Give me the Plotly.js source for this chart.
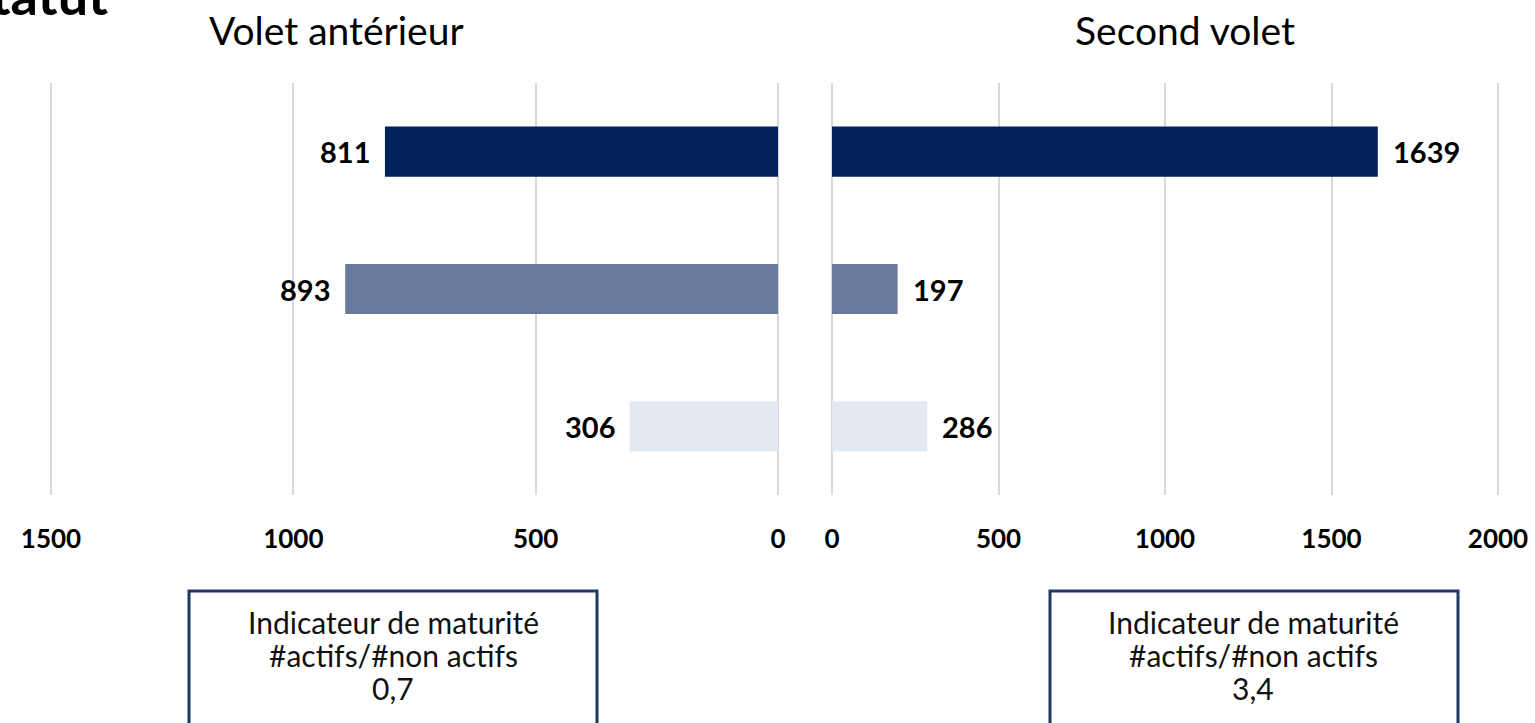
<!DOCTYPE html>
<html>
<head>
<meta charset="utf-8">
<script src="https://cdn.plot.ly/plotly-3.0.1.min.js"></script>
<style>html,body{margin:0;padding:0;background:#fff;}#chart{width:1535px;height:723px;}</style>
</head>
<body>
<div id="chart"></div>
<script>
// ---- data ----
const categories = ["Actifs", "Non actifs (A)", "Non actifs (B)"];
const voletAnterieur = [811, 893, 306];
const secondVolet = [1639, 197, 286];
const barColors = ["#03215B", "#687A9D", "#E4E8F1"];
const leftTicks = [1500, 1000, 500, 0];
const rightTicks = [0, 500, 1000, 1500, 2000];
const panelTitles = ["Volet antérieur", "Second volet"];
const maturite = ["0,7", "3,4"];
const boxLines = ["Indicateur de maturité", "#actifs/#non actifs"];

const W = 1535, H = 723;
const px = v => v / W;
const py = v => 1 - v / H;
const FONT = "Lato, 'Liberation Sans', sans-serif";

const traces = [
  {type: "bar", orientation: "h", y: categories, x: voletAnterieur,
   marker: {color: barColors}, xaxis: "x", yaxis: "y", hoverinfo: "x"},
  {type: "bar", orientation: "h", y: categories, x: secondVolet,
   marker: {color: barColors}, xaxis: "x2", yaxis: "y2", hoverinfo: "x"}
];

const annotations = [];
categories.forEach((c, i) => {
  annotations.push({x: voletAnterieur[i], y: c, xref: "x", yref: "y",
    text: "<b>" + voletAnterieur[i] + "</b>", showarrow: false,
    xanchor: "right", xshift: -13, font: {family: FONT, size: 29, color: "#000"}});
  annotations.push({x: secondVolet[i], y: c, xref: "x2", yref: "y2",
    text: "<b>" + secondVolet[i] + "</b>", showarrow: false,
    xanchor: "left", xshift: 13, font: {family: FONT, size: 29, color: "#000"}});
});
// panel titles
annotations.push({x: px(336), y: py(30), xref: "paper", yref: "paper", text: panelTitles[0],
  showarrow: false, xanchor: "center", yanchor: "middle", font: {family: FONT, size: 39, color: "#000"}});
annotations.push({x: px(1185), y: py(30), xref: "paper", yref: "paper", text: panelTitles[1],
  showarrow: false, xanchor: "center", yanchor: "middle", font: {family: FONT, size: 39, color: "#000"}});
// slide title fragment (cut by the top edge as in the source slide)
annotations.push({x: px(110), y: py(-6), xref: "paper", yref: "paper", text: "<b>Statut</b>",
  showarrow: false, xanchor: "right", yanchor: "middle", font: {family: FONT, size: 54, color: "#000"}});
// boxes text
const boxCenters = [393, 1253];
boxCenters.forEach((cx, k) => {
  const lines = [boxLines[0], boxLines[1], maturite[k]];
  lines.forEach((t, j) => {
    annotations.push({x: px(cx), y: py(622 + 33 * j), xref: "paper", yref: "paper", text: t,
      showarrow: false, xanchor: "center", yanchor: "middle",
      font: {family: FONT, size: 30, color: "#111"}});
  });
});

const shapes = [
  {type: "rect", xref: "paper", yref: "paper", x0: px(189), x1: px(597), y0: py(735), y1: py(591),
   line: {color: "#1F3864", width: 3}, fillcolor: "rgba(0,0,0,0)"},
  {type: "rect", xref: "paper", yref: "paper", x0: px(1050), x1: px(1458), y0: py(735), y1: py(591),
   line: {color: "#1F3864", width: 3}, fillcolor: "rgba(0,0,0,0)"}
];

const axisCommon = {
  showgrid: true, gridcolor: "#D9D9D9", gridwidth: 2, zeroline: false, showline: false,
  ticks: "", tickfont: {family: FONT, size: 26, color: "#000", weight: "bold"},
  ticklabelstandoff: 26, fixedrange: true
};

const layout = {
  width: W, height: H,
  margin: {l: 0, r: 0, t: 0, b: 0},
  paper_bgcolor: "#fff", plot_bgcolor: "rgba(0,0,0,0)",
  showlegend: false, bargap: 0.635,
  xaxis: Object.assign({}, axisCommon, {domain: [px(47), px(782)], range: [1508.25, -8.25],
    tickmode: "array", tickvals: leftTicks, ticktext: leftTicks.map(String)}),
  xaxis2: Object.assign({}, axisCommon, {domain: [px(828), px(1502)], range: [-12, 2012],
    tickmode: "array", tickvals: rightTicks, ticktext: rightTicks.map(String), anchor: "y2"}),
  yaxis: {domain: [py(495), py(83)], range: [2.5, -0.5], showticklabels: false, showgrid: false,
    zeroline: false, showline: false, ticks: "", type: "category", fixedrange: true},
  yaxis2: {domain: [py(495), py(83)], range: [2.5, -0.5], showticklabels: false, showgrid: false,
    zeroline: false, showline: false, ticks: "", type: "category", anchor: "x2", fixedrange: true},
  annotations: annotations, shapes: shapes,
  font: {family: FONT}
};

Plotly.newPlot("chart", traces, layout, {displayModeBar: false, staticPlot: true});
</script>
</body>
</html>
